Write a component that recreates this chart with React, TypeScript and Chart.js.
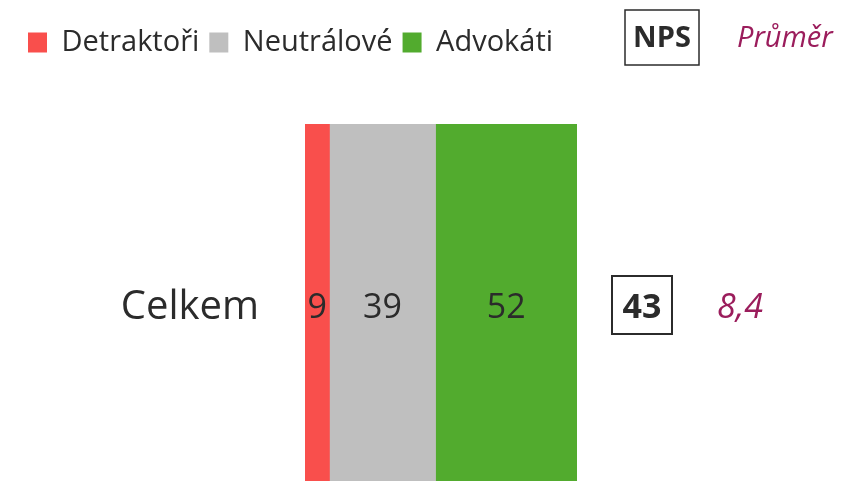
import React, { useEffect, useRef } from "react";
import { Chart, registerables } from "chart.js";

Chart.register(...registerables);

const categories = ["Celkem"];
const seriesNames = ["Detraktoři", "Neutrálové", "Advokáti"];
const detractors = [9];
const neutrals = [39];
const advocates = [52];
const npsValues = [43];
const meanValues = ["8,4"];
const npsHeader = "NPS";
const meanHeader = "Průměr";

const colors = ["#F94F4C", "#BFBFBF", "#52AB2E"];
const textColor = "#2b2b2b";
const meanColor = "#9B1D5C";
const FONT = "'Open Sans', 'Noto Sans', sans-serif";
const PAD_TOP = 18;

const overlayPlugin = {
  id: "overlay",
  afterDatasetsDraw(chart: any) {
    const ctx = chart.ctx;
    const area = chart.chartArea;
    ctx.save();
    // value labels inside segments
    chart.data.datasets.forEach((ds: any, di: number) => {
      const meta = chart.getDatasetMeta(di);
      meta.data.forEach((bar: any, i: number) => {
        const v = ds.data[i];
        const cx = (bar.x + bar.base) / 2;
        ctx.font = `34px ${FONT}`;
        ctx.fillStyle = textColor;
        ctx.textAlign = "center";
        ctx.textBaseline = "middle";
        ctx.fillText(String(v), cx, bar.y);
      });
    });
    // NPS & mean column
    const yScale = chart.scales.y;
    categories.forEach((_, i) => {
      const y = yScale.getPixelForValue(i);
      const nx = area.right + 65;
      ctx.strokeStyle = textColor;
      ctx.lineWidth = 2;
      ctx.strokeRect(nx - 30, y - 32, 60, 58);
      ctx.font = `bold 34px ${FONT}`;
      ctx.fillStyle = textColor;
      ctx.textAlign = "center";
      ctx.textBaseline = "middle";
      ctx.fillText(String(npsValues[i]), nx, y);
      ctx.font = `italic 34px ${FONT}`;
      ctx.fillStyle = meanColor;
      ctx.fillText(meanValues[i], area.right + 163, y);
    });
    // headers
    ctx.strokeStyle = textColor;
    ctx.lineWidth = 1.5;
    ctx.strokeRect(625, 10, 74, 55);
    ctx.font = `bold 29px ${FONT}`;
    ctx.fillStyle = textColor;
    ctx.textAlign = "center";
    ctx.textBaseline = "middle";
    ctx.fillText(npsHeader, 662, 39);
    ctx.font = `italic 29px ${FONT}`;
    ctx.fillStyle = meanColor;
    ctx.textAlign = "left";
    ctx.fillText(meanHeader, 737, 39);
    ctx.restore();
  },
};

export default function App() {
  const ref = useRef<HTMLCanvasElement>(null);
  useEffect(() => {
    if (!ref.current) return;
    const chart = new Chart(ref.current, {
      type: "bar",
      data: {
        labels: categories,
        datasets: [detractors, neutrals, advocates].map((d, i) => ({
          label: seriesNames[i],
          data: d,
          backgroundColor: colors[i],
          borderWidth: 0,
          categoryPercentage: 1,
          barPercentage: 1,
        })),
      },
      options: {
        indexAxis: "y",
        animation: false,
        responsive: false,
        maintainAspectRatio: false,
        layout: { padding: { left: 18, right: 264, top: PAD_TOP, bottom: 0 } },
        plugins: {
          legend: {
            position: "top",
            align: "start",
            labels: {
              boxWidth: 19,
              boxHeight: 20,
              padding: 10,
              color: textColor,
              font: { family: FONT, size: 29 },
            },
          },
          tooltip: { enabled: false },
        },
        scales: {
          x: {
            stacked: true,
            min: 0,
            max: 100,
            position: "top",
            ticks: { display: false },
            grid: { display: false, drawTicks: false },
            border: { display: false },
            afterFit: (scale: any) => {
              const lg = scale.chart.legend;
              const lh = lg ? lg.height : 0;
              scale.height = Math.max(0, 124 - PAD_TOP - lh);
            },
          },
          y: {
            stacked: true,
            ticks: {
              color: textColor,
              font: { family: FONT, size: 40 },
              padding: 46,
            },
            grid: { display: false, drawTicks: false },
            border: { display: false },
            afterFit: (scale: any) => {
              scale.width = 305 - 18;
              scale.paddingTop = 0;
              scale.paddingBottom = 0;
            },
          },
        },
      },
      plugins: [overlayPlugin],
    });
    return () => chart.destroy();
  }, []);
  return (
    <div style={{ position: "fixed", left: 0, top: 0, width: 841, height: 481, overflow: "hidden", background: "#fff" }}>
      <canvas ref={ref} width={841} height={492} style={{ display: "block" }} />
    </div>
  );
}
